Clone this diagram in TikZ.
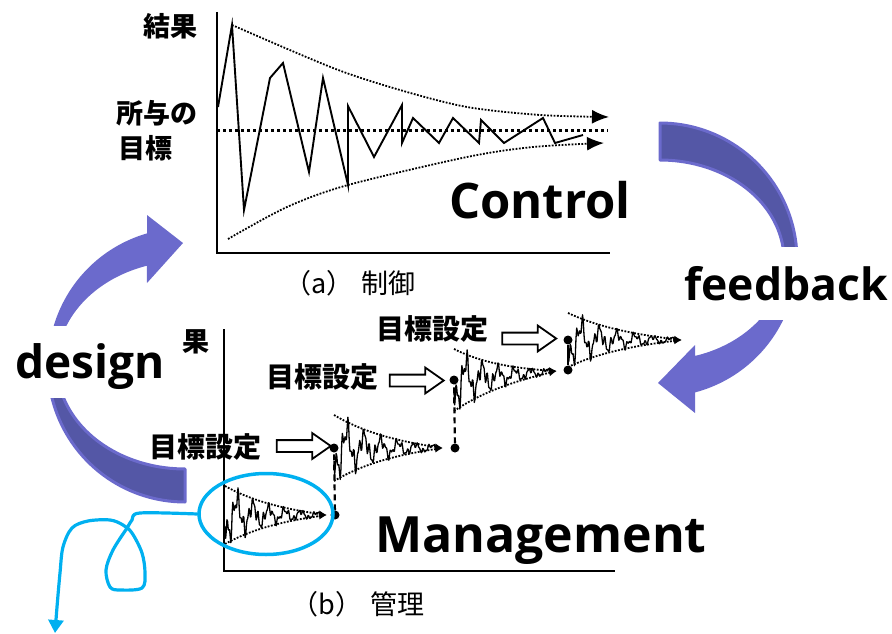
\documentclass[tikz,border=0pt]{standalone}
\usepackage{fontspec}
\newfontfamily\jpfont{Noto Sans CJK JP}
\newfontfamily\labelfont{Open Sans}
\usetikzlibrary{arrows.meta,shapes.geometric,shapes.arrows}
\definecolor{ringlight}{RGB}{107,106,204}
\definecolor{ringdark}{RGB}{84,87,166}
\definecolor{penblue}{RGB}{0,176,240}

% one damped run: start (#1,#2), convergence point (#3,#4), amplitude #5
\newcommand\dampedrun[5]{%
  \draw[signal] plot[domain=0:0.95, samples=150, variable=\t]
    ({#1+(#3-#1)*\t}, {#2+(#4-#2)*\t + #5*exp(-2.4*\t)*(0.7*sin(2300*\t)+0.4*sin(7300*\t+50)+0.25*sin(13100*\t+20))});
  \draw[envline, smalltip] plot[domain=0:1, samples=24, variable=\t]
    ({#1+(#3-#1)*\t}, {#2+(#4-#2)*\t - #5*(exp(-1.8*\t)-\t*exp(-1.8))});
  \draw[envline, smalltip] plot[domain=0:1, samples=24, variable=\t]
    ({#1+(#3-#1)*\t}, {#2+(#4-#2)*\t + #5*(exp(-1.8*\t)-\t*exp(-1.8))});
}

\begin{document}
\begin{tikzpicture}[x=1pt,y=-1pt,
  jp/.style={font=\jpfont\bfseries\fontsize{27}{30}\selectfont, inner sep=0pt},
  jpset/.style={font=\jpfont\bfseries\fontsize{28}{30}\selectfont, inner sep=0pt},
  jpcaption/.style={font=\jpfont\fontsize{27}{30}\selectfont, inner sep=0pt},
  biglabel/.style={font=\labelfont\bfseries\fontsize{#1}{#1}\selectfont, inner sep=0pt, anchor=base west},
  mask/.style={fill=white, draw=none, inner sep=0pt, anchor=north west},
  axisline/.style={line width=2pt},
  zigzag/.style={line width=1.9pt, line join=miter, miter limit=20},
  signal/.style={line width=1.3pt, line join=round},
  envline/.style={line width=1.8pt, dash pattern=on 1.8pt off 1.5pt},
  targetline/.style={line width=3pt, dash pattern=on 3pt off 3pt},
  bigtip/.style={-{Latex[length=17pt,width=14pt]}},
  smalltip/.style={-{Latex[length=8pt,width=7pt]}},
  dotnode/.style={circle, fill=black, inner sep=0pt, minimum size=9pt},
  stepline/.style={line width=2.2pt, dash pattern=on 6pt off 4pt},
  hollowarrow/.style={single arrow, draw=black, line width=1.8pt, fill=white,
    minimum height=54pt, minimum width=24pt, inner sep=5pt,
    single arrow head extend=7pt, single arrow tip angle=70},
  ]
\useasboundingbox (0,0) rectangle (892,634);

% ---- ring arrows ----
% right: feedback
\filldraw[fill=ringdark, draw=ringlight, line width=3pt, line join=round]
  plot[domain=-90:0, samples=40, variable=\a] ({660+137*cos(\a)},{260+137*sin(\a)})
  -- plot[domain=0:-90, samples=40, variable=\a] ({660+124*cos(\a)},{260+100*sin(\a)}) -- cycle;
\fill[ringlight]
  plot[domain=0:75.2, samples=40, variable=\a] ({660+137*cos(\a)},{260+137*sin(\a)})
  -- (695,413) -- (658,383) -- (695,345)
  -- plot[domain=73.6:0, samples=40, variable=\a] ({660+124*cos(\a)},{260+100*sin(\a)}) -- cycle;
% left: design
\filldraw[fill=ringdark, draw=ringlight, line width=3pt, line join=round]
  plot[domain=90:180, samples=40, variable=\a] ({185+137*cos(\a)},{365+137*sin(\a)})
  -- plot[domain=180:90, samples=40, variable=\a] ({185+128*cos(\a)},{365+104*sin(\a)}) -- cycle;
\fill[ringlight]
  plot[domain=180:253.9, samples=40, variable=\a] ({185+137*cos(\a)},{365+137*sin(\a)})
  -- (147,215) -- (183,243) -- (147,283)
  -- plot[domain=252.7:180, samples=40, variable=\a] ({185+128*cos(\a)},{365+104*sin(\a)}) -- cycle;

% ---- label backgrounds and labels ----
\node[mask, minimum width=184pt, minimum height=72pt] (designmask) at (0,326) {};
\node[mask, minimum width=216pt, minimum height=73pt] (feedbackmask) at (676,247) {};
\node[biglabel=49] (control) at (449,218) {Control};
\node[biglabel=44.5] (feedback) at (684,300) {feedback};
\node[biglabel=46] (design) at (15,378) {design};
\node[biglabel=50] (management) at (375,552) {Management};

% ---- (a) control chart ----
\draw[axisline] (217,12) -- (217,253) -- (610,253);
\node[jp, anchor=west] (resultA) at (143.5,26) {結果};
\node[jp, anchor=west] (givenA) at (116,113.5) {所与の};
\node[jp, anchor=west] (goalA) at (118,148.5) {目標};
\node[jpcaption] (captionA) at (350,283.5) {（a）\hspace{0.3em}制御};
\draw[targetline] (217,130) -- (608,130);
\draw[envline, bigtip] plot[smooth] coordinates
  {(232,25) (333,68) (400,90) (467,107) (540,115) (609,117)};
\draw[envline, bigtip] plot[smooth] coordinates
  {(228,239) (287,207) (348,185) (467,157) (533,147) (604,143)};
\draw[zigzag] (218,107) -- (232,25) -- (244,210) -- (270,78) -- (283,63)
  -- (309,172) -- (323,78) -- (348,185) -- (348,106) -- (374,157)
  -- (402,105) -- (402,143) -- (413,118) -- (439,143) -- (453,118)
  -- (479,143) -- (481,120) -- (504,143) -- (543,118) -- (555,143) -- (583,135);

% ---- (b) management chart ----
\draw[axisline] (224,329) -- (224,571) -- (615,571);
\node[jp] (resultB) at (196,342) {果};
\node[jpset] (goal1) at (205,446.5) {目標設定};
\node[jpset] (goal2) at (322.5,376.5) {目標設定};
\node[jpset] (goal3) at (432.5,329) {目標設定};
\node[hollowarrow] (step1) at (299.5,446) {};
\node[hollowarrow] (step2) at (412.5,380.5) {};
\node[hollowarrow] (step3) at (525,338.5) {};

\dampedrun{225}{515}{327}{515}{29}
\dampedrun{334}{448}{443}{448}{33}
\dampedrun{454}{380}{557}{371}{31}
\dampedrun{568}{340}{682}{340}{27}
\node[dotnode] (end1) at (335,515) {};
\node[dotnode] (start2) at (334,448) {};
\node[dotnode] (end2) at (455,448) {};
\node[dotnode] (start3) at (454,380) {};
\node[dotnode] (end3) at (568,370) {};
\node[dotnode] (start4) at (568,340) {};
\draw[stepline] (end1) -- (start2);
\draw[stepline] (end2) -- (start3);
\draw[line width=2.2pt] (end3) -- (start4);
\node[jpcaption] (captionB) at (358,604) {（b）\hspace{0.3em}管理};

% ---- hand-drawn pointer ----
\node[ellipse, draw=penblue, line width=3.5pt, minimum width=134pt,
  minimum height=81pt, inner sep=0pt] (focus) at (266,514) {};
\coordinate (penend) at (55,633);
\draw[penblue, line width=3.2pt, line cap=round, line join=round,
  -{Triangle[length=13pt,width=15pt]}]
  plot[smooth, tension=0.55] coordinates {(focus.west) (140,513) (132,520)
  (127,528) (113,550) (106,570) (110,587) (120,590) (142,588) (145,573)
  (142,553) (132,533) (123,525) (110,520) (88,521) (72,528) (63,547)
  (60,573) (57,607) (penend)};
\end{tikzpicture}
\end{document}
